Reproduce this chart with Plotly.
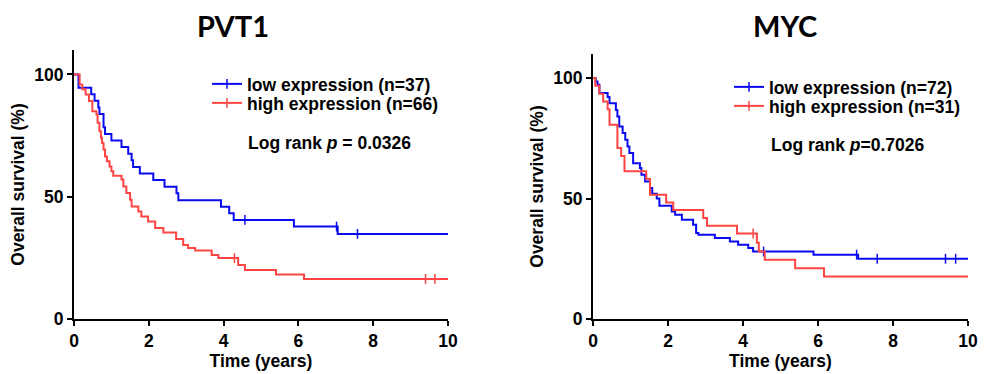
import plotly.graph_objects as go

W, H = 984, 374

# ---------------- data ----------------
titles = ["PVT1", "MYC"]

pvt1_low_label = "low expression (n=37)"
pvt1_high_label = "high expression (n=66)"
myc_low_label = "low expression (n=72)"
myc_high_label = "high expression (n=31)"

pvt1_p_text = "Log rank <i>p</i> = 0.0326"
myc_p_text = "Log rank <i>p</i>=0.7026"

# PVT1 low expression
pvt1_low_t = [0, 0.12, 0.46, 0.55, 0.65, 0.68, 0.79, 0.83, 1.0, 1.27, 1.45, 1.54, 1.58,
              1.76, 2.12, 2.42, 2.74, 2.79, 3.93, 4.15, 4.27, 5.88, 7.05, 10]
pvt1_low_s = [100, 94.6, 91.9, 89.2, 86.5, 83.8, 78.4, 75.7, 73.0, 70.3, 67.6, 64.9, 62.2,
              59.5, 56.8, 54.1, 51.4, 48.6, 45.9, 43.2, 40.5, 37.8, 34.8, 34.8]
pvt1_low_cens_t = [4.57, 7.02, 7.58]
pvt1_low_cens_s = [40.5, 37.8, 34.8]

# PVT1 high expression
pvt1_high_t = [0, 0.15, 0.22, 0.31, 0.40, 0.49, 0.60, 0.63, 0.68, 0.72, 0.75, 0.79, 0.83,
               0.88, 0.95, 1.0, 1.05, 1.27, 1.32, 1.40, 1.50, 1.54, 1.72, 1.80, 1.98, 2.17,
               2.39, 2.73, 2.92, 3.05, 3.24, 3.68, 3.86, 4.39, 4.57, 5.40, 6.15, 10]
pvt1_high_s = [100, 95.9, 93.9, 91.8, 89.1, 85.0, 83.6, 80.2, 76.8, 74.1, 72.0, 69.3, 66.5,
               64.5, 62.4, 60.4, 58.6, 57.0, 54.2, 51.5, 48.8, 46.0, 44.0, 41.9, 39.9, 37.2,
               35.4, 32.7, 30.3, 29.0, 28.0, 26.2, 24.9, 22.1, 20.0, 18.2, 16.4, 16.4]
pvt1_high_cens_t = [4.29, 9.40, 9.65]
pvt1_high_cens_s = [24.9, 16.4, 16.4]

# MYC low expression
myc_low_t = [0, 0.07, 0.12, 0.17, 0.39, 0.44, 0.61, 0.65, 0.70, 0.79, 0.86, 0.92, 0.97,
             1.07, 1.25, 1.29, 1.39, 1.52, 1.58, 1.70, 1.77, 2.10, 2.19, 2.37, 2.67, 2.75,
             2.81, 3.25, 3.65, 3.87, 4.14, 4.27, 5.88, 7.07, 10]
myc_low_s = [100, 98.6, 97.2, 93.8, 92.1, 89.6, 86.8, 84.1, 79.9, 77.2, 74.4, 71.6, 68.9,
             64.7, 62.7, 59.9, 57.1, 54.4, 52.0, 50.0, 47.0, 44.6, 43.3, 41.2, 39.1, 35.7,
             35.0, 33.6, 32.2, 30.8, 29.5, 28.0, 26.7, 25.0, 25.0]
myc_low_cens_t = [4.55, 7.03, 7.58, 9.40, 9.67]
myc_low_cens_s = [28.0, 26.7, 25.0, 25.0, 25.0]

# MYC high expression
myc_high_t = [0, 0.06, 0.17, 0.27, 0.39, 0.44, 0.65, 0.75, 0.84, 1.42, 1.52, 1.95, 2.14,
              2.94, 3.04, 3.84, 4.37, 4.42, 4.58, 5.39, 6.16, 10]
myc_high_s = [100, 96.8, 93.5, 90.3, 87.1, 80.6, 71.0, 67.7, 61.3, 58.1, 51.6, 48.4, 45.2,
              41.9, 38.7, 35.5, 31.6, 28.0, 24.6, 21.1, 17.6, 17.6]
myc_high_cens_t = [4.27]
myc_high_cens_s = [35.5]

x_ticks = [0, 2, 4, 6, 8, 10]
y_ticks = [0, 50, 100]

# ---------------- styling ----------------
BLUE = "#0A0AF0"
RED = "#FF4444"
FONT = "Liberation Sans, Arial, sans-serif"
FS = 17.5

fig = go.Figure()


def add_group(t, s, ct, cs, color, label, xa, ya, legend):
    fig.add_trace(go.Scatter(x=t, y=s, mode="lines", line=dict(color=color, width=2, shape="hv"),
                             xaxis=xa, yaxis=ya, showlegend=False, hoverinfo="skip"))
    fig.add_trace(go.Scatter(x=ct, y=cs, mode="markers",
                             marker=dict(symbol="line-ns", size=7, color=color,
                                         line=dict(color=color, width=1.5)),
                             xaxis=xa, yaxis=ya, showlegend=False, hoverinfo="skip",
                             cliponaxis=False))
    # legend entry (line with censor tick)
    fig.add_trace(go.Scatter(x=[None], y=[None], mode="lines+markers", name=label,
                             line=dict(color=color, width=2),
                             marker=dict(symbol="line-ns", size=7, color=color,
                                         line=dict(color=color, width=1.5)),
                             xaxis=xa, yaxis=ya, showlegend=True, legend=legend))


add_group(pvt1_low_t, pvt1_low_s, pvt1_low_cens_t, pvt1_low_cens_s, BLUE, pvt1_low_label, "x", "y", "legend")
add_group(pvt1_high_t, pvt1_high_s, pvt1_high_cens_t, pvt1_high_cens_s, RED, pvt1_high_label, "x", "y", "legend2")
add_group(myc_low_t, myc_low_s, myc_low_cens_t, myc_low_cens_s, BLUE, myc_low_label, "x2", "y2", "legend3")
add_group(myc_high_t, myc_high_s, myc_high_cens_t, myc_high_cens_s, RED, myc_high_label, "x2", "y2", "legend4")

tickfont = dict(family=FONT, size=FS, color="black", weight="bold")
titlefont = dict(family=FONT, size=FS, color="black", weight="bold")

xcommon = dict(range=[0, 10], tickvals=x_ticks, showline=True, linewidth=2, linecolor="black",
               ticks="outside", ticklen=5, tickwidth=2, tickcolor="black", showgrid=False,
               zeroline=False, tickfont=tickfont, fixedrange=True, automargin=False)
ycommon = dict(range=[0, 110], tickvals=y_ticks, showline=True, linewidth=2, linecolor="black",
               ticks="outside", ticklen=5, tickwidth=2, tickcolor="black", showgrid=False,
               zeroline=False, tickfont=tickfont, fixedrange=True, automargin=False)


def leg(xpx, ypx):
    return dict(x=xpx / W, y=1 - ypx / H, xanchor="left", yanchor="middle",
                bgcolor="rgba(0,0,0,0)", borderwidth=0, itemwidth=30,
                font=dict(family=FONT, size=FS, color="black", weight="bold"))


fig.update_layout(
    width=W, height=H,
    margin=dict(l=0, r=0, t=0, b=0, autoexpand=False),
    paper_bgcolor="white", plot_bgcolor="white",
    xaxis=dict(domain=[74 / W, 448 / W], anchor="y",
               title=dict(text="Time (years)", font=titlefont, standoff=1), **xcommon),
    yaxis=dict(domain=[(H - 319) / H, (H - 50) / H], anchor="x",
               title=dict(text="Overall survival (%)", font=titlefont, standoff=5), **ycommon),
    xaxis2=dict(domain=[593 / W, 968 / W], anchor="y2",
                title=dict(text="Time (years)", font=titlefont, standoff=1), **xcommon),
    yaxis2=dict(domain=[(H - 319) / H, (H - 54) / H], anchor="x2",
                title=dict(text="Overall survival (%)", font=titlefont, standoff=5), **ycommon),
    legend=leg(207, 84),
    legend2=leg(207, 103),
    legend3=leg(729, 87),
    legend4=leg(729, 106),
    annotations=[
        dict(text=titles[0], x=233 / W, y=1 - 25 / H, xref="paper", yref="paper",
             xanchor="center", yanchor="middle", showarrow=False,
             font=dict(family="Lato, sans-serif", size=29, color="black", weight="bold")),
        dict(text=titles[1], x=785 / W, y=1 - 25 / H, xref="paper", yref="paper",
             xanchor="center", yanchor="middle", showarrow=False,
             font=dict(family="Lato, sans-serif", size=29, color="black", weight="bold")),
        dict(text=pvt1_p_text, x=246 / W, y=1 - 143 / H, xref="paper", yref="paper",
             xanchor="left", yanchor="middle", showarrow=False,
             font=dict(family=FONT, size=FS, color="black", weight="bold")),
        dict(text=myc_p_text, x=769 / W, y=1 - 145 / H, xref="paper", yref="paper",
             xanchor="left", yanchor="middle", showarrow=False,
             font=dict(family=FONT, size=FS, color="black", weight="bold")),
    ],
)

fig.write_html("out.html", config={"displayModeBar": False},
               post_script="document.body.style.margin='0';document.body.style.padding='0';")
